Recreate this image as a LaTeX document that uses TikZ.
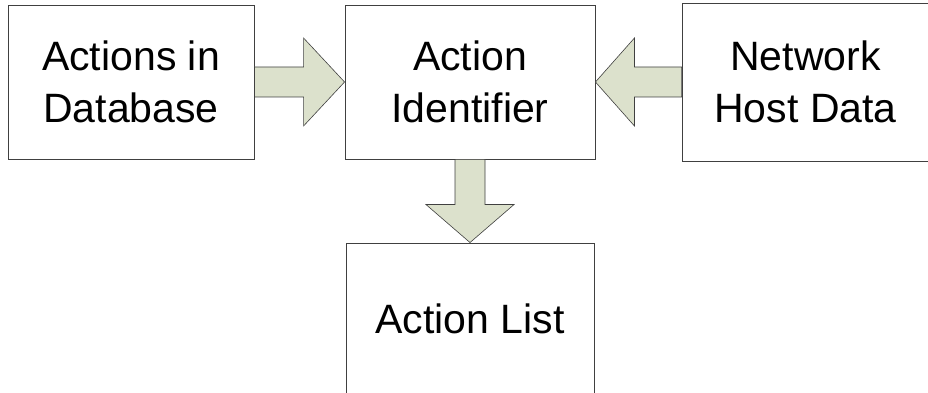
\documentclass[tikz,border=0pt]{standalone}
\usepackage{fontspec}
\setmainfont{Liberation Sans}
\usepackage{tikz}
\usetikzlibrary{calc}
\definecolor{arrowfill}{RGB}{220,225,204}
\definecolor{edgegrey}{RGB}{64,64,64}

\begin{document}
\begin{tikzpicture}[x=1pt,y=1pt,
  box/.style={draw=edgegrey,line width=0.9pt,fill=white,inner sep=0pt,align=center,font=\fontsize{41}{52}\selectfont},
  flow/.style={draw=edgegrey,line width=0.6pt,fill=arrowfill,line join=miter}]
\useasboundingbox (0,0) rectangle (928,393);
\node[box,minimum width=246,minimum height=154] (db) at (131,311) {Actions in\\Database};
\node[box,minimum width=250,minimum height=154] (ident) at (470,311) {Action\\Identifier};
\node[box,minimum width=247,minimum height=158] (host) at (805.5,311) {Network\\Host Data};
\node[box,minimum width=248,minimum height=151] (list) at (470,74.5) {Action List};
% block arrows
\draw[flow] ($(db.east)+(0,15)$) -- ($(ident.west)+(-41,15)$) -- ($(ident.west)+(-41,44)$) -- (ident.west)
  -- ($(ident.west)+(-41,-44)$) -- ($(ident.west)+(-41,-15)$) -- ($(db.east)+(0,-15)$) -- cycle;
\draw[flow] ($(host.west)+(0,15)$) -- ($(ident.east)+(39,15)$) -- ($(ident.east)+(39,44)$) -- (ident.east)
  -- ($(ident.east)+(39,-44)$) -- ($(ident.east)+(39,-15)$) -- ($(host.west)+(0,-15)$) -- cycle;
\draw[flow] ($(ident.south)+(-15,0)$) -- ($(list.north)+(-15,38)$) -- ($(list.north)+(-44,38)$) -- (list.north)
  -- ($(list.north)+(44,38)$) -- ($(list.north)+(15,38)$) -- ($(ident.south)+(15,0)$) -- cycle;
\end{tikzpicture}
\end{document}
